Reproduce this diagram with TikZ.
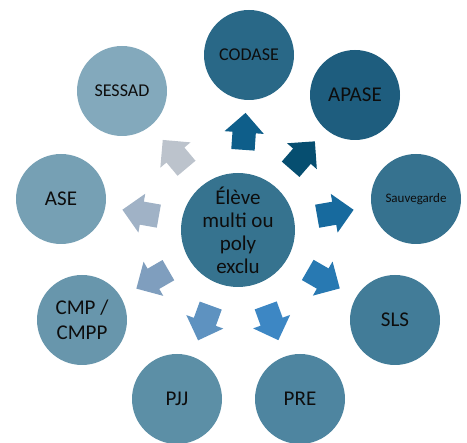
\documentclass[tikz,border=0pt]{standalone}
\usepackage{fontspec}
\setmainfont{Carlito}
\usepackage{tikz}
\usetikzlibrary{shapes.arrows, calc}
\usepackage{xcolor}
\definecolor{centreblue}{RGB}{54, 115, 143}
\definecolor{codaseblue}{RGB}{41, 104, 135}
\definecolor{apaseblue}{RGB}{30, 93, 126}
\definecolor{sauvblue}{RGB}{54, 114, 143}
\definecolor{slsblue}{RGB}{66, 124, 152}
\definecolor{preblue}{RGB}{78, 133, 160}
\definecolor{pjjblue}{RGB}{92, 143, 166}
\definecolor{cmpblue}{RGB}{104, 150, 172}
\definecolor{aseblue}{RGB}{118, 160, 180}
\definecolor{sessadblue}{RGB}{131, 169, 188}
\definecolor{arrowcodase}{RGB}{14, 94, 138}
\definecolor{arrowapase}{RGB}{6, 78, 112}
\definecolor{arrowsauv}{RGB}{23, 106, 158}
\definecolor{arrowsls}{RGB}{40, 121, 178}
\definecolor{arrowpre}{RGB}{61, 135, 196}
\definecolor{arrowpjj}{RGB}{94, 146, 192}
\definecolor{arrowcmp}{RGB}{127, 158, 190}
\definecolor{arrowase}{RGB}{160, 178, 198}
\definecolor{arrowsessad}{RGB}{188, 195, 204}

\begin{document}
\begin{tikzpicture}[x=1pt, y=1pt,
    bulle/.style={circle, minimum size=90pt, inner sep=0pt, align=center,
      text=black!95, font=\fontsize{21}{25}\selectfont},
    fleche/.style={single arrow, minimum height=37pt, inner xsep=0pt,
      inner ysep=11.5pt, single arrow head extend=8pt}]
        \useasboundingbox (0,0) rectangle (467,443);

        % Centre (the pupil)
        \node[bulle, fill=centreblue, minimum size=114pt,
          font=\fontsize{21}{23}\selectfont] (eleve) at (238,213)
          {Élève\\multi ou\\poly\\exclu};

        % Partners around
        \node[bulle, fill=codaseblue, font=\fontsize{18}{22}\selectfont]
          (codase) at (249,388) {CODASE};
        \node[bulle, fill=apaseblue] (apase) at (355,348) {APASE};
        \node[bulle, fill=sauvblue, font=\fontsize{13}{16}\selectfont]
          (sauv) at (416,244) {Sauvegarde};
        \node[bulle, fill=slsblue] (sls) at (395,123) {SLS};
        \node[bulle, fill=preblue] (pre) at (300,44) {PRE};
        \node[bulle, fill=pjjblue] (pjj) at (177,44) {PJJ};
        \node[bulle, fill=cmpblue] (cmp) at (82,123) {CMP /\\CMPP};
        \node[bulle, fill=aseblue] (ase) at (61,244) {ASE};
        \node[bulle, fill=sessadblue, font=\fontsize{18}{22}\selectfont]
          (sessad) at (122,352) {SESSAD};

        % Block arrows from the centre
        \node[fleche, fill=arrowcodase, rotate=86]
          (f-codase) at ($(eleve)!93pt!(codase)$) {};
        \node[fleche, fill=arrowapase, rotate=49]
          (f-apase) at ($(eleve)!93pt!(apase)$) {};
        \node[fleche, fill=arrowsauv, rotate=10]
          (f-sauv) at ($(eleve)!93pt!(sauv)$) {};
        \node[fleche, fill=arrowsls, rotate=-30]
          (f-sls) at ($(eleve)!93pt!(sls)$) {};
        \node[fleche, fill=arrowpre, rotate=-70]
          (f-pre) at ($(eleve)!93pt!(pre)$) {};
        \node[fleche, fill=arrowpjj, rotate=-110]
          (f-pjj) at ($(eleve)!93pt!(pjj)$) {};
        \node[fleche, fill=arrowcmp, rotate=-150]
          (f-cmp) at ($(eleve)!93pt!(cmp)$) {};
        \node[fleche, fill=arrowase, rotate=170]
          (f-ase) at ($(eleve)!93pt!(ase)$) {};
        \node[fleche, fill=arrowsessad, rotate=130]
          (f-sessad) at ($(eleve)!93pt!(sessad)$) {};
      \end{tikzpicture}
\end{document}
